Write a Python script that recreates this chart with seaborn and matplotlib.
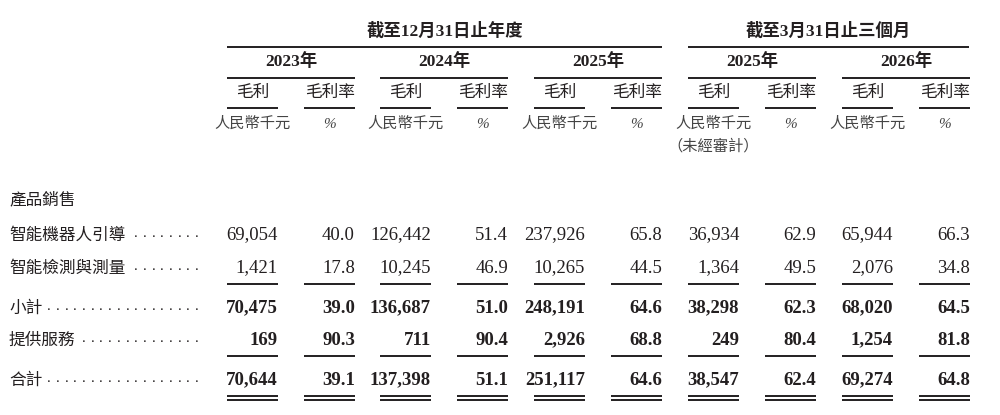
import matplotlib
matplotlib.use("Agg")
import matplotlib.pyplot as plt
import seaborn as sns

sns.set_theme(style="white")
plt.rcParams['font.family'] = ['Liberation Serif', 'Noto Sans CJK TC']

groups = ["截至12月31日止年度", "截至3月31日止三個月"]
years = ["2023年", "2024年", "2025年", "2025年", "2026年"]
sub_headers = ["毛利", "毛利率"]
units = ["人民幣千元", "%"]
section = "產品銷售"
row_labels = ["智能機器人引導", "智能檢測與測量", "小計", "提供服務", "合計"]
profit = [
    [69054, 126442, 237926, 36934, 65944],
    [1421, 10245, 10265, 1364, 2076],
    [70475, 136687, 248191, 38298, 68020],
    [169, 711, 2926, 249, 1254],
    [70644, 137398, 251117, 38547, 69274],
]
margin = [
    [40.0, 51.4, 65.8, 62.9, 66.3],
    [17.8, 46.9, 44.5, 49.5, 34.8],
    [39.0, 51.0, 64.6, 62.3, 64.5],
    [90.3, 90.4, 68.8, 80.4, 81.8],
    [39.1, 51.1, 64.6, 62.4, 64.8],
]
bold_rows = [False, False, True, True, True]

C = "#231f20"
fig = plt.figure(figsize=(10, 4.15), dpi=100)
ax = fig.add_axes([0, 0, 1, 1])
ax.set_xlim(0, 1000); ax.set_ylim(415, 0); ax.axis("off")

starts = [227, 380, 534, 688, 842]
cw, gap = 51, 26
lw = 1.4

def hline(x0, x1, y):
    ax.plot([x0, x1], [y, y], color=C, lw=lw, solid_capstyle="butt")

ax.text((227 + 662) / 2, 31, groups[0], ha="center", va="center", fontsize=12.5, weight="bold", color=C)
ax.text((688 + 969) / 2, 31, groups[1], ha="center", va="center", fontsize=12.5, weight="bold", color=C)
hline(227, 662, 47); hline(688, 969, 47)

for i, s in enumerate(starts):
    e = s + 2 * cw + gap
    ax.text((s + e) / 2, 62, years[i], ha="center", va="center", fontsize=12.5, weight="bold", color=C)
    hline(s, e, 78)
    for j in range(2):
        cs = s + j * (cw + gap)
        ax.text(cs + cw / 2, 92, sub_headers[j], ha="center", va="center", fontsize=12, color=C,
                family=['Noto Sans CJK TC'])
        hline(cs, cs + cw, 108)
        ax.text(cs + cw / 2, 124, units[j], ha="center", va="center", fontsize=11, color="#444",
                style="italic")
ax.text(688 + cw / 2, 146, "（未經審計）", ha="center", va="center", fontsize=11, color="#444")

ax.text(9, 200, section, ha="left", va="center", fontsize=12, color=C, family=['Noto Sans CJK TC'])

row_y = [235, 268, 308, 340, 380]
for r, y in enumerate(row_y):
    wt = "bold" if bold_rows[r] else "normal"
    ax.text(9, y, row_labels[r], ha="left", va="center", fontsize=12, color=C,
            family=['Noto Sans CJK TC'])
    x0 = 9 + len(row_labels[r]) * 16.7 + 5
    x = 197
    while x >= x0:
        ax.text(x, y + 5, ".", ha="center", va="bottom", fontsize=11, color=C)
        x -= 8.7
    for i, s in enumerate(starts):
        ax.text(s + cw, y, f"{profit[r][i]:,}", ha="right", va="center", fontsize=13.5, weight=wt, color=C)
        ax.text(s + 2 * cw + gap, y, f"{margin[r][i]:.1f}", ha="right", va="center", fontsize=13.5, weight=wt, color=C)

for s in starts:
    for j in range(2):
        cs = s + j * (cw + gap)
        hline(cs, cs + cw, 284)
        hline(cs, cs + cw, 356)
        hline(cs, cs + cw, 396)
        hline(cs, cs + cw, 400)

fig.savefig("out.png", dpi=100, facecolor="white")
